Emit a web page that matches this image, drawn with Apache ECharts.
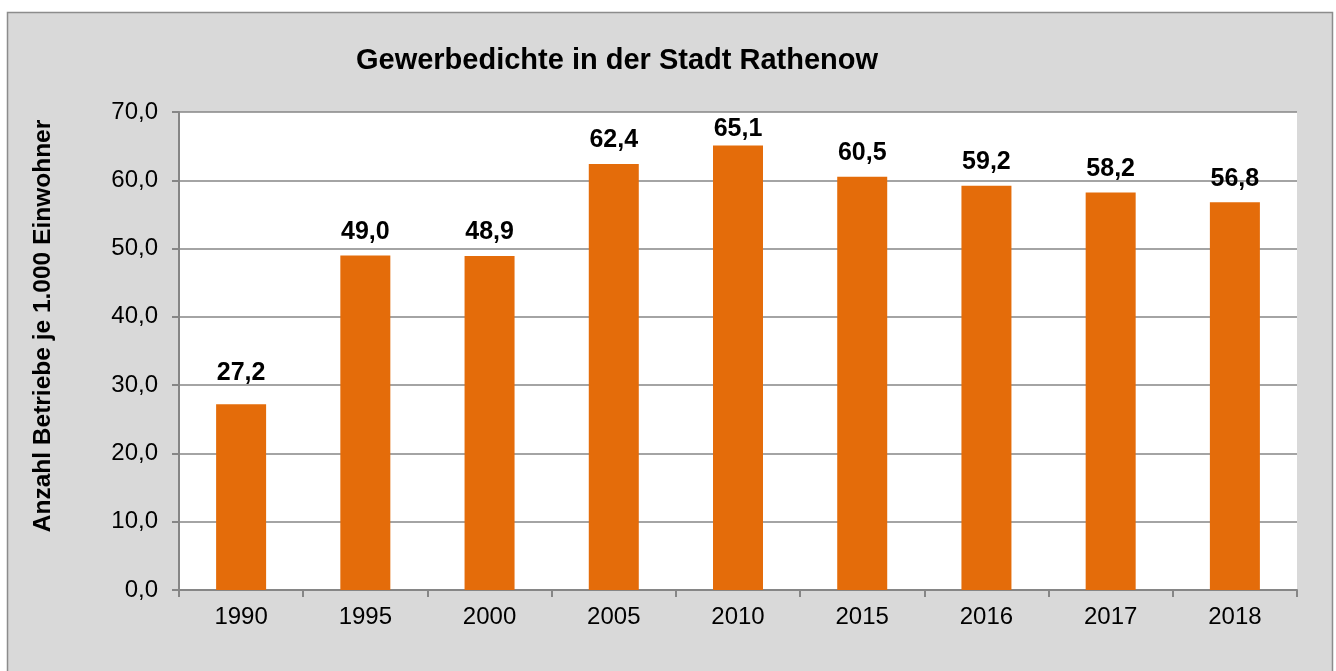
<!DOCTYPE html>
<html>
<head>
<meta charset="utf-8">
<script src="https://cdn.jsdelivr.net/npm/echarts@6/dist/echarts.min.js"></script>
<style>
  html, body { margin: 0; padding: 0; background: #fff; }
  #chart { width: 1336px; height: 671px; }
</style>
</head>
<body>
<div id="chart"></div>
<script>
const years = ['1990', '1995', '2000', '2005', '2010', '2015', '2016', '2017', '2018']
const dichte = [27.2, 49.0, 48.9, 62.4, 65.1, 60.5, 59.2, 58.2, 56.8]

const fmt = v => v.toFixed(1).replace('.', ',')

// im Original sind zwei Labels von Hand verschoben (1990 höher, 2010 tiefer)
const labelDist = { 0: 19, 4: 4 }

const chart = echarts.init(document.getElementById('chart'))
chart.setOption({
  animation: false,
  backgroundColor: '#fff',
  graphic: [{
    type: 'rect',
    z: -10,
    shape: { x: 7.5, y: 12.5, width: 1325, height: 700 },
    style: { fill: '#d9d9d9', stroke: '#8c8c8c', lineWidth: 1.5 }
  }],
  title: {
    text: 'Gewerbedichte in der Stadt Rathenow',
    left: 612,
    top: 41,
    textAlign: 'center',
    textStyle: { fontFamily: 'Liberation Sans', fontSize: 29, fontWeight: 'bold', color: '#000' }
  },
  grid: {
    left: 179,
    right: 39,
    top: 112,
    bottom: 81,
    show: true,
    backgroundColor: '#fff',
    borderWidth: 0
  },
  xAxis: {
    type: 'category',
    data: years,
    axisLine: { lineStyle: { color: '#868686', width: 2 } },
    axisTick: { show: true, length: 7, lineStyle: { color: '#868686', width: 2 } },
    axisLabel: { fontFamily: 'Liberation Sans', fontSize: 24, color: '#000', margin: 15 }
  },
  yAxis: {
    type: 'value',
    min: 0,
    max: 70,
    interval: 10,
    name: 'Anzahl Betriebe je 1.000 Einwohner',
    nameLocation: 'middle',
    nameGap: 123,
    nameTextStyle: {
      fontFamily: 'Liberation Sans', fontSize: 24.5, fontWeight: 'bold', color: '#000',
      padding: [0, 0, 0, 50]   // schiebt den Titel etwas nach oben
    },
    axisLine: { show: true, lineStyle: { color: '#868686', width: 2 } },
    axisTick: { show: true, length: 7, lineStyle: { color: '#868686', width: 2 } },
    splitLine: { lineStyle: { color: '#868686', width: 1.5 } },
    axisLabel: { fontFamily: 'Liberation Sans', fontSize: 24, color: '#000', margin: 21, formatter: fmt }
  },
  series: [{
    type: 'bar',
    data: dichte.map((v, i) => labelDist[i] != null ? { value: v, label: { distance: labelDist[i] } } : v),
    barWidth: 50,
    itemStyle: { color: '#e46c0a' },
    label: {
      show: true,
      position: 'top',
      distance: 11,
      fontFamily: 'Liberation Sans',
      fontSize: 25,
      fontWeight: 'bold',
      color: '#000',
      formatter: p => fmt(p.value)
    }
  }]
})
</script>
</body>
</html>
